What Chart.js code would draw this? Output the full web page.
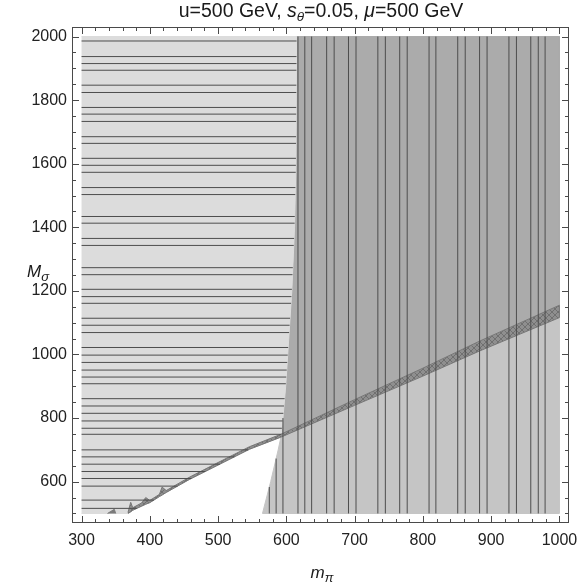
<!DOCTYPE html>
<html>
<head>
<meta charset="utf-8">
<script src="https://cdn.jsdelivr.net/npm/chart.js@4.4.1/dist/chart.umd.min.js"></script>
<style>
  html, body { margin: 0; padding: 0; background: #fff; }
  #wrap { width: 581px; height: 586px; }
</style>
</head>
<body>
<div id="wrap"><canvas id="chart" width="581" height="586"></canvas></div>
<script>
// tick labels
const xTicks = [300, 400, 500, 600, 700, 800, 900, 1000];
const yTicks = [600, 800, 1000, 1200, 1400, 1600, 1800, 2000];

// boundary of the right-hand region (m_pi at each M_sigma)
const edgeM = [500, 600, 700, 740, 800, 900, 1000, 1200, 1400, 1600, 2000];
const edgeX = [565, 577, 588, 592, 595, 599, 602, 608, 612, 614, 615];

// diagonal band, lower and upper edge
const bandX     = [368, 372, 375, 388, 394, 400, 414, 418, 424, 458, 497, 546, 592, 700, 800, 883, 1000];
const bandLower = [500, 505, 510, 523, 529, 534, 553, 558, 566, 607, 649, 702, 740, 840, 932, 1011, 1116];
const bandUpper = [503, 535, 518, 533, 550, 541, 560, 583, 572, 614, 657, 710, 749, 858, 957, 1042, 1155];

// small speck left of the band
const speckX = [338, 348, 350];
const speckY = [500, 513, 500];

// hatching lines
const hLinesY = [1986, 1937, 1915, 1894, 1847, 1824, 1777, 1756, 1733, 1685, 1664, 1617, 1595, 1573,
  1525, 1503, 1434, 1413, 1365, 1343, 1273, 1251, 1205, 1182, 1161, 1114, 1092, 1069, 1022, 998,
  975, 951, 929, 908, 861, 838, 815, 791, 768, 749, 700, 678, 655, 632, 610, 586, 542, 516];
const vLinesX = [575, 585, 595, 617, 627, 637, 659, 670, 691, 702, 734, 745, 766, 777, 809, 819,
  851, 862, 883, 894, 926, 937, 958, 969, 979];

const X_MIN = 300, X_MAX = 1000, Y_MIN = 500, Y_MAX = 2000;
const CROSS = 740; // where the band meets the boundary

// linear lookup on a polyline (xs ascending)
function lookup(xs, ys, v) {
    if (v <= xs[0]) return ys[0];
    for (let i = 1; i < xs.length; i++) {
        if (v <= xs[i]) {
            const t = (v - xs[i - 1]) / (xs[i] - xs[i - 1]);
            return ys[i - 1] + t * (ys[i] - ys[i - 1]);
        }
    }
    return ys[ys.length - 1];
}

const pts = (xs, ys) => xs.map((x, i) => ({ x: x, y: ys[i] }));
const edgePts = pts(edgeX, edgeM);
const lowerPts = pts(bandX, bandLower);
const upperPts = pts(bandX, bandUpper);
const crossX = lookup(edgeM, edgeX, CROSS);

// region polygons
const lightPoly = [{ x: X_MIN, y: Y_MIN }]
    .concat(lowerPts.filter(p => p.x <= crossX))
    .concat(edgePts.filter(p => p.y > CROSS))
    .concat([{ x: X_MIN, y: Y_MAX }]);

const darkPoly = [{ x: crossX, y: CROSS }]
    .concat(edgePts.filter(p => p.y > CROSS))
    .concat([{ x: X_MAX, y: Y_MAX }])
    .concat(upperPts.filter(p => p.x >= crossX).reverse());

const lowerPoly = [{ x: edgeX[0], y: Y_MIN }, { x: X_MAX, y: Y_MIN }]
    .concat(lowerPts.filter(p => p.x >= crossX).reverse())
    .concat(edgePts.filter(p => p.y < CROSS).reverse());

const bandPoly = lowerPts.concat(upperPts.slice().reverse());

// hatch pattern for the band
function hatch() {
    const c = document.createElement('canvas');
    c.width = 6; c.height = 6;
    const g = c.getContext('2d');
    g.fillStyle = '#8f8f8f';
    g.fillRect(0, 0, 6, 6);
    g.strokeStyle = '#707070';
    g.lineWidth = 1;
    g.beginPath();
    g.moveTo(0, 0); g.lineTo(6, 6);
    g.moveTo(6, 0); g.lineTo(0, 6);
    g.stroke();
    return g.createPattern(c, 'repeat');
}

function region(poly, color, order) {
    return {
        data: poly, fill: 'shape', backgroundColor: color, borderColor: color,
        borderWidth: 1, pointRadius: 0, tension: 0, order: order
    };
}

function segment(a, b) {
    return {
        data: [a, b], fill: false, borderColor: '#4d4d4d', borderWidth: 1,
        pointRadius: 0, tension: 0, order: 1
    };
}

const datasets = [
    region(lightPoly, '#dcdcdc', 10),
    region(darkPoly, '#ababab', 10),
    region(lowerPoly, '#c5c5c5', 10),
    Object.assign(region(bandPoly, hatch(), 5), { borderColor: '#777777' }),
    region(pts(speckX, speckY), '#7a7a7a', 5)
];

// horizontal lines stop at the band (below the crossing) or at the boundary
hLinesY.forEach(y => {
    const right = y >= CROSS ? lookup(edgeM, edgeX, y) : lookup(bandLower, bandX, y);
    datasets.push(segment({ x: X_MIN, y: y }, { x: right, y: y }));
});

// vertical lines stop at the boundary
vLinesX.forEach(x => {
    const top = x < edgeX[edgeX.length - 1] ? lookup(edgeX, edgeM, x) : Y_MAX;
    datasets.push(segment({ x: x, y: Y_MIN }, { x: x, y: top }));
});

const FONT = "'Liberation Sans', Arial, Helvetica, sans-serif";

// draw text pieces with italics and subscripts
function drawRuns(ctx, runs, x, baseline, align) {
    let total = 0;
    runs.forEach(r => {
        ctx.font = (r.it ? 'italic ' : '') + r.size + 'px ' + FONT;
        r.w = ctx.measureText(r.t).width;
        total += r.w;
    });
    let cx = align === 'center' ? x - total / 2 : x;
    runs.forEach(r => {
        ctx.font = (r.it ? 'italic ' : '') + r.size + 'px ' + FONT;
        ctx.fillText(r.t, cx, baseline + (r.sub || 0));
        cx += r.w;
    });
}

const framePlugin = {
    id: 'frame',
    afterDatasetsDraw(chart) {
        const { ctx, chartArea: a, scales: { x, y } } = chart;
        ctx.save();
        ctx.strokeStyle = '#4a4a4a';
        ctx.lineWidth = 1;
        ctx.strokeRect(a.left + 0.5, a.top + 0.5, a.right - a.left - 1, a.bottom - a.top - 1);
        ctx.beginPath();
        for (let v = X_MIN; v <= X_MAX; v += 20) {
            const px = Math.round(x.getPixelForValue(v)) + 0.5;
            const len = v % 100 === 0 ? 7 : 4;
            ctx.moveTo(px, a.bottom); ctx.lineTo(px, a.bottom - len);
            ctx.moveTo(px, a.top); ctx.lineTo(px, a.top + len);
        }
        for (let v = Y_MIN; v <= Y_MAX; v += 50) {
            const py = Math.round(y.getPixelForValue(v)) + 0.5;
            const len = v % 200 === 0 ? 7 : 4;
            ctx.moveTo(a.left, py); ctx.lineTo(a.left + len, py);
            ctx.moveTo(a.right, py); ctx.lineTo(a.right - len, py);
        }
        ctx.stroke();
        ctx.restore();
    },
    afterDraw(chart) {
        const ctx = chart.ctx;
        ctx.save();
        ctx.fillStyle = '#1a1a1a';
        ctx.textBaseline = 'alphabetic';
        drawRuns(ctx, [
            { t: 'u=500 GeV, ', size: 19.5 },
            { t: 's', size: 19.5, it: true },
            { t: 'θ', size: 13.5, it: true, sub: 4 },
            { t: '=0.05, ', size: 19.5 },
            { t: 'μ', size: 19.5, it: true },
            { t: '=500 GeV', size: 19.5 }
        ], 321, 17, 'center');
        drawRuns(ctx, [
            { t: 'm', size: 17, it: true },
            { t: 'π', size: 13, it: true, sub: 4 }
        ], 322, 578, 'center');
        drawRuns(ctx, [
            { t: 'M', size: 17, it: true },
            { t: 'σ', size: 13, it: true, sub: 4 }
        ], 27, 277, 'left');
        ctx.restore();
    }
};

new Chart(document.getElementById('chart'), {
    type: 'line',
    data: { datasets: datasets },
    options: {
        responsive: false,
        animation: false,
        layout: { padding: { left: 0, right: 12, top: 27, bottom: 0 } },
        plugins: { legend: { display: false }, tooltip: { enabled: false } },
        scales: {
            x: {
                type: 'linear', min: 286, max: 1014,
                grid: { display: false, drawTicks: false },
                border: { display: false },
                afterBuildTicks: s => { s.ticks = xTicks.map(v => ({ value: v })); },
                afterFit: s => { s.height = 63; s.paddingLeft = 0; s.paddingRight = 0; },
                ticks: {
                    padding: 8, maxRotation: 0, color: '#222', font: { family: FONT, size: 16 },
                    callback: v => String(v)
                }
            },
            y: {
                type: 'linear', min: 470, max: 2030,
                grid: { display: false, drawTicks: false },
                border: { display: false },
                afterBuildTicks: s => { s.ticks = yTicks.map(v => ({ value: v })); },
                afterFit: s => { s.width = 72; s.paddingTop = 0; s.paddingBottom = 0; },
                ticks: {
                    padding: 5, color: '#222', font: { family: FONT, size: 16 },
                    callback: v => String(v)
                }
            }
        }
    },
    plugins: [framePlugin]
});
</script>
</body>
</html>
